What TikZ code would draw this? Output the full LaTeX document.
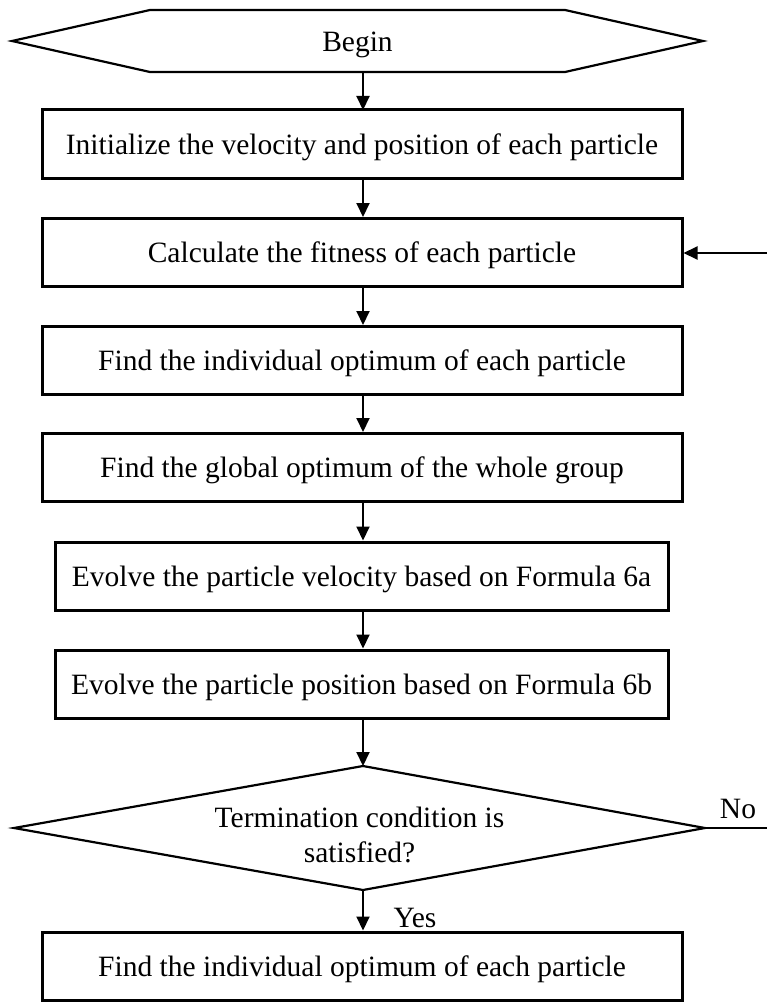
\documentclass[tikz,border=0pt]{standalone}
\usepackage{fontspec}
\setmainfont{Liberation Serif}
\usetikzlibrary{arrows.meta}
\begin{document}
\begin{tikzpicture}[x=1pt,y=-1pt,
  stepbox/.style={draw,line width=3pt,minimum height=68pt,inner sep=0pt,text depth=0pt,font=\fontsize{29.5}{33}\selectfont},
  lbl/.style={font=\fontsize{29.5}{33}\selectfont},
  conn/.style={line width=2pt,-{Triangle[length=14pt,width=13pt]}}]
\useasboundingbox (0,0) rectangle (767,1006);
% Begin hexagon
\draw[line width=2.2pt] (12,41) -- (150,10) -- (565,10) -- (703,41) -- (565,72) -- (150,72) -- cycle;
\node[lbl,text depth=0pt,minimum width=691pt,minimum height=62pt,inner sep=0pt] (begin) at (357.5,42) {Begin};
\node[stepbox,minimum width=640pt] (b1) at (362,144) {Initialize the velocity and position of each particle};
\node[stepbox,minimum width=640pt] (b2) at (362,252.5) {Calculate the fitness of each particle};
\node[stepbox,minimum width=640pt] (b3) at (362,360.5) {Find the individual optimum of each particle};
\node[stepbox,minimum width=640pt] (b4) at (362,467.5) {Find the global optimum of the whole group};
\node[stepbox,minimum width=613pt] (b5) at (361.5,576) {Evolve the particle velocity based on Formula 6a};
\node[stepbox,minimum width=613pt] (b6) at (361.5,684) {Evolve the particle position based on Formula 6b};
% diamond
\draw[line width=2.2pt] (14,828) -- (363,766) -- (705,828) -- (363,890) -- cycle;
\node[lbl,align=center,minimum width=691pt,minimum height=124pt,inner sep=0pt] (dec) at (359.5,835) {Termination condition is\\[2pt]satisfied?};
\node[stepbox,minimum width=640pt] (b7) at (362,966) {Find the individual optimum of each particle};
% connectors
\draw[conn] (363,72) -- (363,110);
\draw[conn] (b1.south -| 363,0) -- (b2.north -| 363,0);
\draw[conn] (b2.south -| 363,0) -- (b3.north -| 363,0);
\draw[conn] (b3.south -| 363,0) -- (b4.north -| 363,0);
\draw[conn] (b4.south -| 363,0) -- (b5.north -| 363,0);
\draw[conn] (b5.south -| 363,0) -- (b6.north -| 363,0);
\draw[conn] (b6.south -| 363,0) -- (363,766);
\draw[conn] (363,890) -- (b7.north -| 363,0);
\coordinate (noend) at (767,828);
\coordinate (backin) at (767,253);
\draw[line width=2.4pt] (705,828) -- (noend);
\draw[conn] (backin) -- (b2.east |- backin);
\node[lbl,anchor=base] (no) at (738,818) {No};
\node[lbl,anchor=base west] (yes) at (390,927) {Yes};
\end{tikzpicture}
\end{document}
